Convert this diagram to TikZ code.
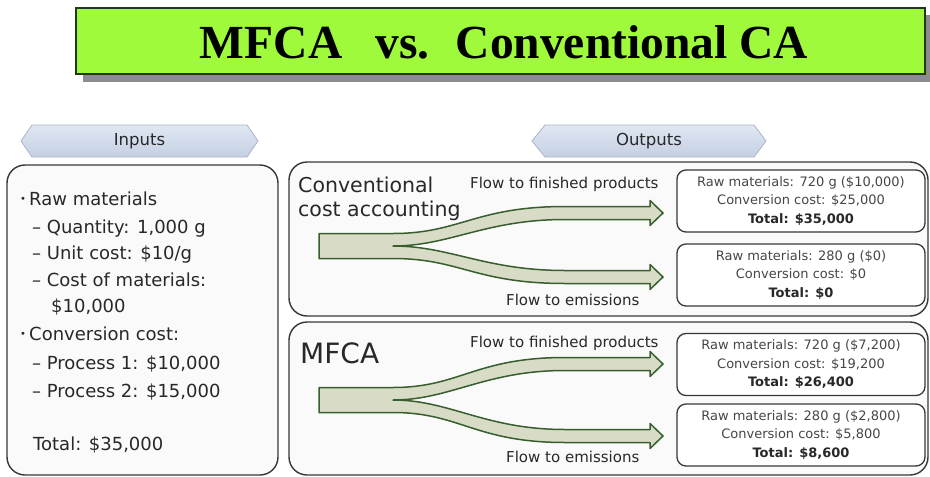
\documentclass[tikz,border=0pt]{standalone}
\usepackage{fontspec}
\setmainfont{DejaVu Sans}
\newfontfamily\titlefont{Liberation Serif}
\definecolor{titlegreen}{RGB}{158,250,58}
\definecolor{titleedge}{RGB}{35,55,20}
\definecolor{shadowgray}{RGB}{140,140,140}
\definecolor{flowfill}{RGB}{216,220,198}
\definecolor{flowedge}{RGB}{55,95,45}
\definecolor{bannertop}{RGB}{224,231,242}
\definecolor{bannerbot}{RGB}{196,208,228}
\definecolor{banneredge}{RGB}{170,180,198}
\definecolor{boxedge}{RGB}{55,55,55}
\definecolor{txt}{RGB}{40,40,40}
\definecolor{restxt}{RGB}{70,70,70}
\definecolor{paneltint}{RGB}{250,250,250}
\newcommand\flowshape[3]{%
\draw[flow] (319,{#1-12.5}) -- (393,{#1-12.5})
 .. controls (460,{#1-12.5}) and (475,{#2-6.5}) .. (565,{#2-6.5})
 -- (650,{#2-6.5}) -- (650,{#2-12.5}) -- (663,#2) -- (650,{#2+12.5}) -- (650,{#2+6.5}) -- (565,{#2+6.5})
 .. controls (485,{#2+6.5}) and (450,#1) .. (393,#1)
 .. controls (450,#1) and (485,{#3-6.5}) .. (565,{#3-6.5})
 -- (650,{#3-6.5}) -- (650,{#3-12.5}) -- (663,#3) -- (650,{#3+12.5}) -- (650,{#3+6.5}) -- (565,{#3+6.5})
 .. controls (475,{#3+6.5}) and (460,{#1+12.5}) .. (393,{#1+12.5})
 -- (319,{#1+12.5}) -- cycle;}
\newcommand\bul{\makebox[9pt][l]{\raisebox{2.5pt}{\fontsize{10}{10}\selectfont\textbullet}}}
\begin{document}
\begin{tikzpicture}[x=1pt,y=-1pt,
  panel/.style={draw=boxedge,line width=1.4pt,rounded corners=18pt,fill=paneltint},
  resbox/.style={draw=boxedge,line width=1.3pt,rounded corners=9pt,fill=white,
    minimum width=248pt,minimum height=62pt,inner sep=0pt,align=center,
    text=restxt,font=\fontsize{13}{18.5}\selectfont},
  flow/.style={draw=flowedge,line width=1.5pt,fill=flowfill,line join=round},
  banner/.style={draw=banneredge,line width=0.8pt,top color=bannertop,bottom color=bannerbot},
  bannertext/.style={text=txt,font=\fontsize{16.5}{19}\selectfont},
  intext/.style={anchor=base west,text=txt,inner sep=0pt,font=\fontsize{18}{21}\selectfont},
  flowlabel/.style={anchor=base west,text=txt,inner sep=0pt,font=\fontsize{15}{17}\selectfont},
  heading/.style={anchor=base west,text=txt,inner sep=0pt}]
\useasboundingbox (0,0) rectangle (930,477);
% title
\fill[shadowgray] (83,15) rectangle (931,82);
\node[draw=titleedge,line width=1.5pt,fill=titlegreen,minimum width=849pt,minimum height=66pt,inner sep=0pt] (titlebox) at (500.5,41) {};
\node[font=\titlefont\bfseries\fontsize{47.5}{50}\selectfont,inner sep=0pt] (title) at (504,42) {MFCA\hspace{0.7em}vs.\hspace{0.55em}Conventional CA};
% banners
\draw[banner] (21,141) -- (32,125) -- (247,125) -- (258,141) -- (247,157) -- (32,157) -- cycle;
\node[bannertext] (inputs) at (139.5,141) {Inputs};
\draw[banner] (532,141) -- (545,125) -- (754,125) -- (766,141) -- (754,157) -- (545,157) -- cycle;
\node[bannertext] (outputs) at (649,141) {Outputs};
% panels
\draw[panel] (7,165) rectangle (278,475);
\draw[panel] (289,162) rectangle (928,316);
\draw[panel] (289,322) rectangle (928,475);
% input text
\node[intext] (l1) at (20,205) {\bul Raw materials};
\node[intext] (l2) at (32,233) {– Quantity: 1,000 g};
\node[intext] (l3) at (32,259) {– Unit cost: \$10/g};
\node[intext] (l4) at (32,286) {– Cost of materials:};
\node[intext] (l5) at (51,312) {\$10,000};
\node[intext] (l6) at (20,340) {\bul Conversion cost:};
\node[intext] (l7) at (32,369) {– Process 1: \$10,000};
\node[intext] (l8) at (32,397) {– Process 2: \$15,000};
\node[intext] (l9) at (33,450) {Total: \$35,000};
% headings
\node[heading,font=\fontsize{20.5}{23}\selectfont] (conv1) at (298,192) {Conventional};
\node[heading,font=\fontsize{20.5}{23}\selectfont] (conv2) at (298,216) {cost accounting};
\node[heading,font=\fontsize{28}{30}\selectfont] (mfca) at (300,363) {MFCA};
% flows
\flowshape{246}{213}{277}
\flowshape{400}{364}{436}
\node[flowlabel] (f1) at (470,188) {Flow to finished products};
\node[flowlabel] (f2) at (506,305) {Flow to emissions};
\node[flowlabel] (f3) at (470,347) {Flow to finished products};
\node[flowlabel] (f4) at (506,462) {Flow to emissions};
% result boxes
\node[resbox] (r1) at (801,201) {Raw materials: 720 g (\$10,000)\\Conversion cost: \$25,000\\{\color{txt}\bfseries Total: \$35,000}};
\node[resbox] (r2) at (801,275) {Raw materials: 280 g (\$0)\\Conversion cost: \$0\\{\color{txt}\bfseries Total: \$0}};
\node[resbox] (r3) at (801,364.5) {Raw materials: 720 g (\$7,200)\\Conversion cost: \$19,200\\{\color{txt}\bfseries Total: \$26,400}};
\node[resbox] (r4) at (801,435) {Raw materials: 280 g (\$2,800)\\Conversion cost: \$5,800\\{\color{txt}\bfseries Total: \$8,600}};
\end{tikzpicture}
\end{document}
